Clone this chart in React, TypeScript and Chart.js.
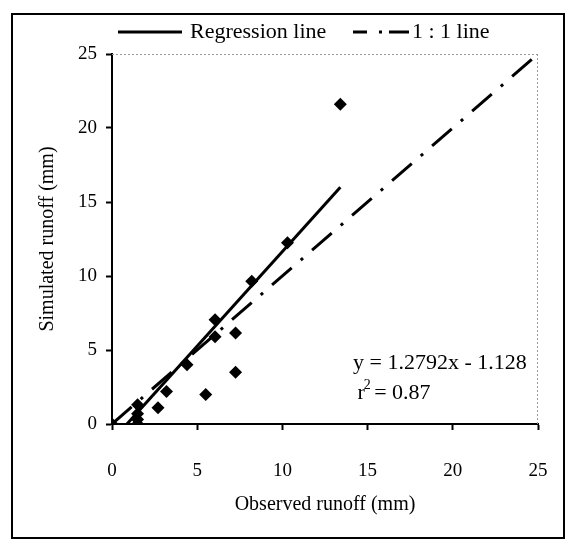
import React, { useEffect, useRef } from "react";
import { Chart, registerables } from "chart.js";

Chart.register(...registerables);

// Data
const observed = [0, 1.5, 1.5, 1.5, 1.5, 2.7, 3.2, 4.4, 5.5, 6.05, 6.05, 7.25, 7.25, 8.2, 10.3, 13.4];
const simulated = [0, 0, 0.3, 0.7, 1.3, 1.1, 2.2, 4.0, 2.0, 5.9, 7.05, 6.15, 3.5, 9.65, 12.25, 21.6];
const regressionX = [0.88, 13.4];
const regressionY = [0, 16.0];
const oneToOneX = [0, 25];
const oneToOneY = [0, 25];
const axisMin = 0;
const axisMax = 25;
const axisStep = 5;
const xTitle = "Observed runoff (mm)";
const yTitle = "Simulated runoff (mm)";
const legendLabels = ["Regression line", "1 : 1 line"];
const equationText = "y = 1.2792x - 1.128";
const r2Value = "0.87";

const FONT = "'Liberation Serif', 'Times New Roman', serif";

const framePlugin = {
  id: "frame",
  beforeDraw(chart: any) {
    const { ctx, width, height } = chart;
    ctx.save();
    ctx.fillStyle = "#ffffff";
    ctx.fillRect(0, 0, width, height);
    ctx.restore();
  },
  afterDraw(chart: any) {
    const { ctx, chartArea } = chart;
    ctx.save();
    // outer frame
    ctx.strokeStyle = "#000";
    ctx.lineWidth = 2;
    ctx.strokeRect(12, 14, 552, 524);
    // light dotted plot border (top & right)
    ctx.strokeStyle = "#9a9a9a";
    ctx.lineWidth = 1;
    ctx.setLineDash([2, 2]);
    ctx.beginPath();
    ctx.moveTo(chartArea.left, chartArea.top + 0.5);
    ctx.lineTo(chartArea.right, chartArea.top + 0.5);
    ctx.moveTo(chartArea.right - 0.5, chartArea.top);
    ctx.lineTo(chartArea.right - 0.5, chartArea.bottom);
    ctx.stroke();
    ctx.setLineDash([]);

    // legend
    const ly = 32;
    ctx.strokeStyle = "#000";
    ctx.fillStyle = "#000";
    ctx.lineWidth = 3;
    ctx.beginPath();
    ctx.moveTo(118, ly);
    ctx.lineTo(182, ly);
    ctx.stroke();
    ctx.font = `22px ${FONT}`;
    ctx.textBaseline = "middle";
    ctx.textAlign = "left";
    ctx.fillText(legendLabels[0], 190, ly);
    ctx.beginPath();
    ctx.moveTo(353, ly);
    ctx.lineTo(367, ly);
    ctx.moveTo(379, ly);
    ctx.lineTo(382, ly);
    ctx.moveTo(389, ly);
    ctx.lineTo(409, ly);
    ctx.stroke();
    ctx.fillText(legendLabels[1], 412, ly);

    // equation
    const xs = chart.scales.x;
    const ys = chart.scales.y;
    const ex = xs.getPixelForValue(14.15);
    const ey = ys.getPixelForValue(4.1);
    ctx.font = `22px ${FONT}`;
    ctx.fillText(equationText, ex, ey);
    const rx = xs.getPixelForValue(14.4);
    const ry = ys.getPixelForValue(2.1);
    ctx.fillText("r", rx, ry);
    const rw = ctx.measureText("r").width;
    ctx.font = `14px ${FONT}`;
    ctx.fillText("2", rx + rw - 1, ry - 8);
    const sw = ctx.measureText("2").width;
    ctx.font = `22px ${FONT}`;
    ctx.fillText(" = " + r2Value, rx + rw + sw - 3, ry);
    ctx.restore();
  },
};

export default function App() {
  const canvasRef = useRef<HTMLCanvasElement | null>(null);

  useEffect(() => {
    const canvas = canvasRef.current;
    if (!canvas) return;
    const points = observed.map((x, i) => ({ x, y: simulated[i] }));
    const regression = regressionX.map((x, i) => ({ x, y: regressionY[i] }));
    const oneToOne = oneToOneX.map((x, i) => ({ x, y: oneToOneY[i] }));

    const axisCommon = (title: string, horizontal: boolean) => ({
      type: "linear" as const,
      min: axisMin,
      max: axisMax,
      ticks: {
        stepSize: axisStep,
        color: "#000",
        font: { family: FONT, size: 19 },
        padding: horizontal ? 30 : 9,
      },
      grid: {
        display: true,
        drawOnChartArea: false,
        drawTicks: true,
        tickLength: 6,
        tickColor: "#000",
        tickWidth: 2,
      },
      border: { display: true, color: "#000", width: 2 },
      title: {
        display: true,
        text: title,
        color: "#000",
        font: { family: FONT, size: 20 },
        padding: horizontal ? { top: 0, bottom: 30 } : { top: 36, bottom: 0 },
      },
      afterFit: (s: any) => {
        if (horizontal) {
          s.height = 123;
          s.paddingLeft = 0;
          s.paddingRight = 0;
        } else {
          s.width = 112;
          s.paddingTop = 0;
          s.paddingBottom = 0;
        }
      },
    });

    const chart = new Chart(canvas, {
      type: "scatter",
      data: {
        datasets: [
          {
            label: "Observed vs simulated",
            data: points,
            pointStyle: "rectRot",
            pointRadius: 6.5,
            pointBackgroundColor: "#000",
            pointBorderColor: "#000",
            pointBorderWidth: 0,
            showLine: false,
            order: 0,
          },
          {
            label: legendLabels[0],
            data: regression,
            showLine: true,
            borderColor: "#000",
            borderWidth: 3,
            pointRadius: 0,
            order: 1,
          },
          {
            label: legendLabels[1],
            data: oneToOne,
            showLine: true,
            borderColor: "#000",
            borderWidth: 3,
            borderDash: [26, 12, 3, 12],
            pointRadius: 0,
            order: 2,
          },
        ],
      },
      options: {
        responsive: false,
        animation: false,
        layout: { padding: { left: 0, right: 34, top: 54, bottom: 0 } },
        plugins: {
          legend: { display: false },
          tooltip: { enabled: false },
        },
        scales: {
          x: axisCommon(xTitle, true),
          y: axisCommon(yTitle, false),
        },
      } as any,
      plugins: [framePlugin],
    });
    return () => chart.destroy();
  }, []);

  return (
    <div style={{ position: "absolute", left: 0, top: 0, width: 572, height: 547, background: "#fff" }}>
      <canvas ref={canvasRef} width={572} height={547} style={{ display: "block" }} />
    </div>
  );
}
